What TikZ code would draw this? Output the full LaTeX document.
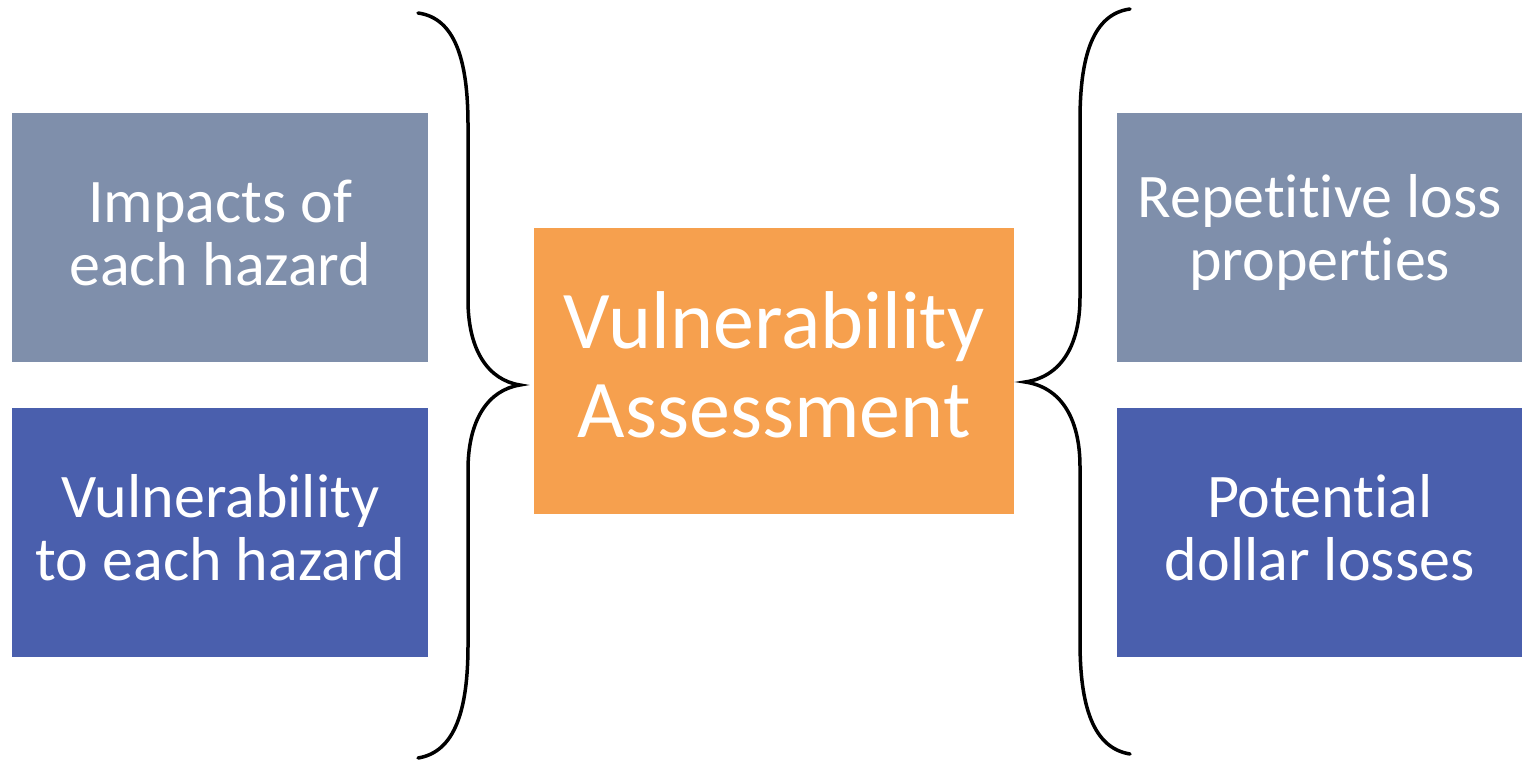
\documentclass[tikz,border=0pt]{standalone}
\usepackage{fontspec}
\setmainfont[Ligatures=NoCommon]{Carlito}
\definecolor{grayblue}{HTML}{7F8FAB}
\definecolor{darkblue}{HTML}{4A5FAD}
\definecolor{orangebox}{HTML}{F6A04E}
\begin{document}
\begin{tikzpicture}[x=1pt,y=-1pt,
  box/.style={draw=none,minimum width=416pt,minimum height=249pt,anchor=north west,inner sep=0pt},
  boxtext/.style={text=white,align=center,font=\fontsize{62}{63}\selectfont,yshift=5pt,inner sep=0pt},
  gbox/.style={box,fill=grayblue},
  bbox/.style={box,fill=darkblue},
  brace/.style={draw=black,line width=3.5pt,line cap=round}]
\useasboundingbox (0,0) rectangle (1522,760);
\node[gbox,label={[boxtext]center:Impacts of\\each hazard}] (lt) at (12,113) {};
\node[bbox,label={[boxtext]center:Vulnerability\\to each hazard}] (lb) at (12,408) {};
\node[gbox,minimum width=405pt,label={[boxtext]center:Repetitive loss\\properties}] (rt) at (1117,113) {};
\node[bbox,minimum width=405pt,label={[boxtext]center:Potential\\dollar losses}] (rb) at (1117,408) {};
\node[box,fill=orangebox,minimum width=480pt,minimum height=286pt,
  label={[boxtext,font=\fontsize{82}{89}\selectfont,yshift=1pt]center:Vulnerability\\Assessment}] (c) at (534,228) {};
\coordinate (ltip) at (520,385);
\coordinate (rtip) at (1025,382);
\draw[brace] (418,13) .. controls (455,18) and (468,60) .. (468,125) -- (468,300)
  .. controls (468,350) and (488,380) .. (ltip)
  .. controls (488,390) and (468,420) .. (468,470) -- (468,645)
  .. controls (468,710) and (455,752) .. (418,758);
\draw[brace] (1130,9) .. controls (1093,14) and (1080,56) .. (1080,120) -- (1080,297)
  .. controls (1080,347) and (1060,377) .. (rtip)
  .. controls (1060,387) and (1080,417) .. (1080,467) -- (1080,642)
  .. controls (1080,706) and (1093,748) .. (1130,754);
\end{tikzpicture}
\end{document}
